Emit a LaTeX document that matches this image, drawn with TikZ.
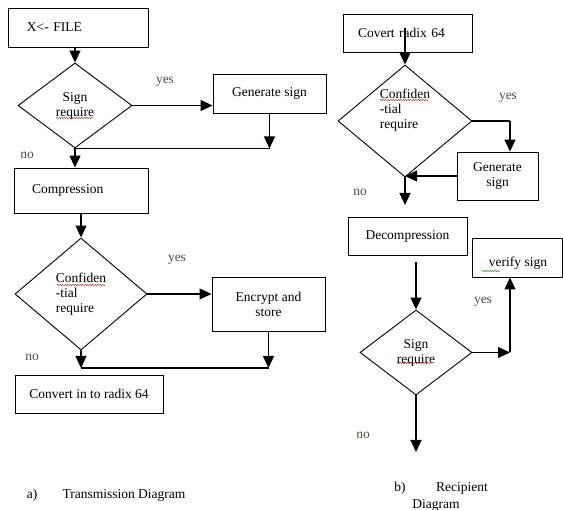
\documentclass[tikz,border=0pt]{standalone}
\usepackage{fontspec}
\setmainfont{Liberation Serif}
\usetikzlibrary{shapes.geometric,arrows.meta,decorations.pathmorphing,calc}
\definecolor{lblc}{RGB}{70,85,60}
\begin{document}
\begin{tikzpicture}[x=1pt,y=-1pt,
  every node/.style={font=\fontsize{13.5}{15}\selectfont, inner sep=0pt},
  box/.style={draw, line width=0.9pt, inner sep=0pt, align=center},
  dia/.style={draw, diamond, line width=0.9pt, inner sep=0pt, align=center},
  arr/.style={line width=1.2pt, -{Triangle[length=12pt,width=11pt]}},
  ln/.style={line width=1.2pt},
  lbl/.style={text=lblc},
  squig/.style={red!80!black, line width=0.45pt, decorate, decoration={snake,amplitude=0.6pt,segment length=2.5pt}},
  gsquig/.style={green!50!black, line width=0.45pt, decorate, decoration={snake,amplitude=0.5pt,segment length=2.5pt}}
]
\useasboundingbox (0,0) rectangle (563,510);

% ---------- left: transmission ----------
\node[box, minimum width=140pt, minimum height=39pt, text width=102pt, inner xsep=19pt, align=left] (xf) at (78,27.5) {X<- FILE};
\node[dia, minimum width=114pt, minimum height=85pt] (d1) at (75,105.5) {Sign\\require};
\node[box, minimum width=113pt, minimum height=39pt] (gs) at (269.5,93.5) {Generate sign};
\node[box, minimum width=134pt, minimum height=45pt, text width=98pt, inner xsep=18pt, align=left] (comp) at (81,190.5) {Compression};
\node[dia, minimum width=132pt, minimum height=112pt, align=left] (d2) at (81,294) {Confiden\\-tial\\require};
\node[box, minimum width=113pt, minimum height=54pt] (enc) at (268.5,304) {Encrypt and\\store};
\node[box, minimum width=148pt, minimum height=38pt] (conv) at (89,394) {Convert in to radix 64};

\node[lbl] (y1) at (165,82) {yes};
\node[lbl] (n1) at (27,155) {no};
\node[lbl] (y2) at (177,260) {yes};
\node[lbl] (n2) at (32,357) {no};
\node (capa) at (32,495) {a)};
\node (capat) at (124,495) {Transmission Diagram};

\draw[arr] (d1.north |- xf.south) -- (d1.north);
\draw[arr] (d1.east) -- (d1.east -| gs.west);
\coordinate (j1) at (gs.south |- d1.south);
\draw[ln] (d1.south) -- (j1);
\draw[arr] (gs.south) -- (j1);
\draw[arr] (d1.south) -- (d1.south |- comp.north);
\draw[arr] (comp.south) -- (d2.north);
\draw[arr] (d2.east) -- (d2.east -| enc.west);
\coordinate (j2) at (81,368);
\coordinate (k2) at (enc.south |- j2);
\draw[arr] (d2.south) -- (j2);
\draw[ln] (j2) -- (k2);
\draw[arr] (enc.south) -- (k2);

% ---------- right: recipient ----------
\node[box, minimum width=129pt, minimum height=38pt, text width=99pt, inner xsep=15pt, align=left] (cr) at (407.5,33) {Covert radix 64};
\node[dia, minimum width=134pt, minimum height=112pt] (d3) at (405,121) {};
\node[align=left] (d3t) at (405,110.5) {Confiden\\-tial\\require};
\node[box, minimum width=81pt, minimum height=48pt] (gs2) at (497.5,176) {Generate\\sign};
\node[box, minimum width=119pt, minimum height=38pt] (dec) at (407.5,236) {Decompression};
\node[box, minimum width=90pt, minimum height=39pt] (vs) at (517.5,257.5) {};
\node (vst) at (518,263) {verify sign};
\node[dia, minimum width=112pt, minimum height=85pt] (d4) at (416,352.5) {Sign\\require};

\node[lbl] (y3) at (508,98) {yes};
\node[lbl] (n3) at (360,192) {no};
\node[lbl] (y4) at (483,302) {yes};
\node[lbl] (n4) at (363,435) {no};
\node (capb) at (400,488) {b)};
\node (capbt) at (462,488) {Recipient};
\node (capbt2) at (436,505) {Diagram};

\coordinate (crs) at (405,28);
\draw[arr] (crs) -- (d3.north);
\coordinate (c3) at (510,121);
\draw[ln] (d3.east) -- (c3);
\draw[arr] (c3) -- (c3 |- gs2.north);
\draw[arr] (gs2.west) -- (gs2.west -| d3.south);
\coordinate (e3) at (405,205);
\draw[arr] (d3.south) -- (e3);
\coordinate (s4) at (416,262);
\draw[arr] (s4) -- (d4.north);
\coordinate (c4) at (510,352.5);
\draw[arr] (d4.east) -- (c4);
\draw[arr] (c4) -- (c4 |- vs.south);
\coordinate (e4) at (416,452);
\draw[arr] (d4.south) -- (e4);

% ---------- spell-check squiggles ----------
\draw[squig] (56,118) -- (93,118);
\draw[squig] (57,285) -- (105,285);
\draw[squig] (380,100) -- (429,100);
\draw[squig] (397,363) -- (430,363);
\draw[gsquig] (482,271) -- (500,271);
\end{tikzpicture}
\end{document}
